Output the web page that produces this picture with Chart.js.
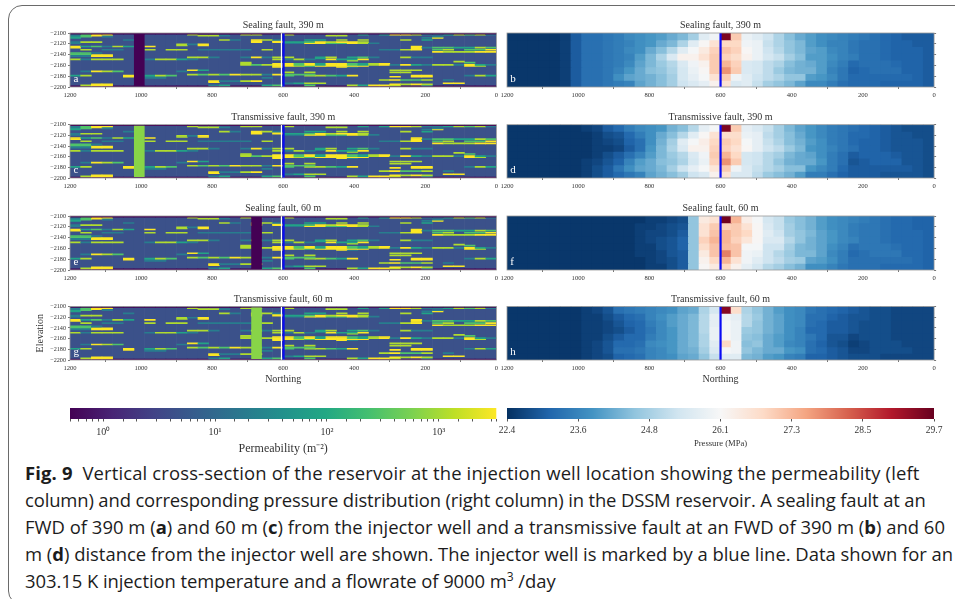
<!DOCTYPE html>
<html><head><meta charset="utf-8">
<script src="https://cdn.jsdelivr.net/npm/chart.js@4"></script>
<style>
html,body{margin:0;padding:0;background:#fff;overflow:hidden;width:955px;height:599px}
#frame{position:absolute;left:8px;top:5px;width:1000px;height:600px;border:1.5px solid #6a6a6a;border-radius:14px;box-sizing:border-box}
canvas{position:absolute;filter:blur(.4px)}
.letter{position:absolute;color:#fff;font:11px "Liberation Serif",serif;filter:blur(.3px)}
.cap{position:absolute;left:25px;white-space:nowrap;font:18.45px "Open Sans",sans-serif;color:#1c1c1c;line-height:20px}
.cap b{font-weight:700}
.cap sup{font-size:12px;line-height:0}
</style></head><body>
<div id="frame"></div>
<div id="plots"></div>
<div class="cap" style="top:462.5px;letter-spacing:.14px"><b>Fig. 9</b>&nbsp; Vertical cross-section of the reservoir at the injection well location showing the permeability (left</div>
<div class="cap" style="top:489.5px;letter-spacing:-.14px">column) and corresponding pressure distribution (right column) in the DSSM reservoir. A sealing fault at an</div>
<div class="cap" style="top:516.5px;letter-spacing:.01px">FWD of 390 m (<b>a</b>) and 60 m (<b>c</b>) from the injector well and a transmissive fault at an FWD of 390 m (<b>b</b>) and 60</div>
<div class="cap" style="top:543.5px;letter-spacing:-.01px">m (<b>d</b>) distance from the injector well are shown. The injector well is marked by a blue line. Data shown for an</div>
<div class="cap" style="top:570.5px;letter-spacing:-.06px">303.15 K injection temperature and a flowrate of 9000 m<sup>3</sup> /day</div>
<script>
Chart.defaults.animation=false;
Chart.defaults.responsive=false;
Chart.defaults.font.family='"Liberation Serif",serif';
Chart.defaults.color='#333';

// ---- data ----
const northingCells=[1185,1155,1125,1095,1065,1035,1005,975,945,915,885,855,825,795,765,735,705,675,645,615,585,555,525,495,465,435,405,375,345,315,285,255,225,195,165,135,105,75,45,15];
const xTickValues=[1200,1000,800,600,400,200,0];
const elevationTicks=[-2100,-2120,-2140,-2160,-2180,-2200];
const wellNorthing=600;
const basePermeability=4.5;
const permeabilityLevels={'.':4.5,p:0.5,a:20,b:82,c:280,d:1150,e:3200};
const sealingPermeability=0.5, transmissivePermeability=680;
const permeabilityRows=[
"pppppppppp pppppppppp pppppppppp pppppppppp",
"acee...... .d....dd.. d......b.b eedaabdcda",
"acea...... ..dda..... ....dd.... ..........",
"bc.a...... .......... .......... ....a.....",
"b......... .......... .......... ...ae.....",
".......... .......... .......... ..........",
".....a.... ....da.eda ..bb.d.d.. .d.b......",
".......... .......e.e .......... ..........",
"add....... .......e.e bbcedeed.. ..........",
"a......... .......... aaeecceda. ..........",
".......... dae....... .......... ..........",
".......... d.e....... .......... ..........",
"ebcadb.e.. .......... .......... ..e.......",
"e......... .......... .......... ..eaccbbdc",
".......... .......... .......... ..e.......",
".d.aa..d.d d.aaaaa.d. .........a ade.cd.cce",
".......... .......... .......... ..........",
".......... .......... .......... ....edddee",
"cca....... .......... .......... ..........",
"cc........ .......... .......... ..........",
"aaee...... .......... .......... ..........",
"aaee...... .......... .......... ..........",
".......... .dda..aead d..bd.bca. .daa......",
".......... .......... ...b...... ..........",
"daddd..add ba.......d ada.ebbe.. ..........",
".......... .......... ......d... ..........",
".......... .......... .......... ......d...",
".......... ......d... .......... .......c..",
".......... ......d..e ecebeecbde ..........",
".......... ......dcde ecebeecbde aebaddaeba",
".......... .........e edceeeee.. .......ed.",
".......... .........e .....ea... ..........",
".......... .......... .......... ..........",
".......... .......... .......... ..........",
".......... .eb....... .......... ddd.......",
".aedc..... a......... .......... ..........",
".......... .......... d.d....... dd........",
".......... .......... .......... ..........",
".......... .dcdceddae ccc....... ..........",
"bd...e.bdc .......... c.ddcbe... ..ee...adb",
".....e.aa. .......... .......... e.ee......",
".......aa. ........a. .......... ..........",
".......... .......... .......... ..........",
".......... .......... .........d eccd.a....",
".......... ...eaade.. .......... ..........",
".......... ...e...... .......... ..........",
".......... .......... abdd...... .....ee...",
"..ee...... .......... .......... eded......",
".dee...... ...ab...bc ..c...dbee d..a......",
"pppppppppp pppppppppp pppppppppp pppppppppp"
];
const faultColumnFar=6, faultColumnNear=17;

const pressureB=[
[22.5,22.5,22.5,22.5,22.5,22.6,23.0,23.3,23.3,23.4,23.5,23.7,23.8,23.9,24.0,24.2,24.4,24.8,25.6,25.9,29.5,27.0,25.8,25.6,25.3,24.9,24.5,24.2,24.0,23.8,23.7,23.6,23.5,23.4,23.3,23.2,23.1,23.0,23.0,23.0],
[22.5,22.5,22.5,22.5,22.5,22.6,23.0,23.3,23.3,23.4,23.5,23.6,23.8,23.9,24.2,24.4,24.9,25.6,26.1,26.6,26.8,26.8,25.9,25.8,25.2,24.9,24.6,24.4,24.0,23.8,23.6,23.6,23.4,23.3,23.3,23.2,23.1,23.1,23.0,23.0],
[22.5,22.5,22.5,22.5,22.5,22.6,23.0,23.3,23.3,23.4,23.5,23.7,23.8,24.2,24.5,25.0,25.6,26.0,26.4,26.9,27.1,26.9,26.1,25.8,25.3,25.0,24.6,24.4,24.1,24.0,23.7,23.6,23.4,23.3,23.3,23.2,23.1,23.1,23.1,23.0],
[22.5,22.5,22.5,22.5,22.5,22.6,23.0,23.3,23.3,23.4,23.5,23.6,24.0,24.4,24.9,25.5,26.2,26.2,26.6,27.0,26.9,26.7,26.2,25.8,25.4,25.2,24.8,24.5,24.0,24.0,23.8,23.6,23.5,23.3,23.3,23.2,23.1,23.1,23.1,23.0],
[22.5,22.5,22.5,22.5,22.5,22.6,23.0,23.3,23.3,23.4,23.5,23.7,24.1,24.4,24.7,25.0,25.5,25.9,26.2,27.0,27.3,26.9,25.5,25.4,25.1,24.9,24.5,24.3,24.2,24.0,23.7,23.5,23.2,23.3,23.3,23.3,23.2,23.1,23.1,23.0],
[22.5,22.5,22.5,22.5,22.5,22.6,23.0,23.3,23.3,23.4,23.6,23.9,24.2,24.5,24.6,24.9,25.4,25.8,26.1,27.0,27.7,27.0,25.5,25.4,25.1,24.7,24.4,24.3,24.3,24.0,23.6,23.4,23.1,23.2,23.3,23.3,23.3,23.1,23.1,23.0],
[22.5,22.5,22.5,22.5,22.5,22.6,23.0,23.3,23.3,23.4,23.8,24.1,24.2,24.3,24.5,24.8,25.4,25.7,26.0,26.6,27.0,25.9,25.6,25.3,25.1,24.9,24.6,24.6,24.0,23.9,23.7,23.4,23.2,23.2,23.2,23.2,23.2,23.2,23.1,23.0],
[22.5,22.5,22.5,22.5,22.5,22.6,23.0,23.3,23.3,23.4,23.5,23.6,24.1,24.3,24.5,24.8,25.3,25.5,25.7,26.2,26.6,25.5,25.6,25.2,24.8,24.6,24.4,24.1,23.7,23.7,23.5,23.3,23.2,23.2,23.2,23.1,23.1,23.1,23.1,23.0]
];
const pressureD=[
[22.5,22.5,22.5,22.5,22.5,22.5,22.5,22.6,22.7,23.0,23.2,23.5,23.7,23.8,23.9,24.3,24.5,25.0,25.7,26.0,29.5,27.0,25.7,25.5,25.2,24.8,24.4,24.1,23.9,23.7,23.5,23.4,23.3,23.2,23.1,23.0,22.9,22.8,22.8,22.8],
[22.5,22.5,22.5,22.5,22.5,22.5,22.5,22.5,22.6,22.8,22.9,23.2,23.5,23.8,24.2,24.5,25.0,25.6,26.1,26.6,26.7,26.7,25.8,25.7,25.1,24.8,24.5,24.2,23.9,23.7,23.5,23.4,23.2,23.2,23.1,23.0,22.9,22.9,22.8,22.8],
[22.5,22.5,22.5,22.5,22.5,22.5,22.5,22.5,22.6,22.7,22.8,23.1,23.3,23.8,24.3,24.8,25.6,26.0,26.3,26.8,27.0,26.8,26.0,25.7,25.2,24.9,24.5,24.3,24.0,23.8,23.5,23.4,23.2,23.1,23.1,23.0,22.9,22.9,22.9,22.8],
[22.5,22.5,22.5,22.5,22.5,22.5,22.5,22.5,22.6,22.6,22.7,23.0,23.3,23.9,24.4,24.9,25.5,26.2,26.2,26.9,26.9,26.6,26.1,25.7,25.3,25.1,24.7,24.4,23.9,23.8,23.6,23.4,23.3,23.1,23.1,23.0,22.9,22.9,22.9,22.8],
[22.5,22.5,22.5,22.5,22.5,22.5,22.5,22.5,22.6,22.8,23.0,23.3,23.6,24.0,24.4,24.7,25.0,25.5,25.9,27.0,27.3,26.8,25.4,25.3,25.0,24.8,24.4,24.2,24.1,23.8,23.5,23.3,23.0,23.1,23.1,23.1,23.0,22.9,22.9,22.8],
[22.5,22.5,22.5,22.5,22.5,22.5,22.5,22.6,22.7,22.9,23.1,23.6,24.0,24.2,24.5,24.6,24.9,25.4,25.8,26.9,27.7,27.0,25.4,25.3,25.0,24.6,24.3,24.2,24.2,23.9,23.5,23.3,22.9,23.0,23.1,23.1,23.1,22.9,22.9,22.8],
[22.5,22.5,22.5,22.5,22.5,22.5,22.5,22.6,22.8,23.0,23.4,23.8,24.1,24.2,24.4,24.8,25.3,25.7,26.0,26.5,27.0,25.9,25.5,25.2,25.0,24.8,24.5,24.5,23.9,23.7,23.5,23.2,23.0,23.0,23.0,23.0,23.0,23.0,22.9,22.8],
[22.5,22.5,22.5,22.5,22.5,22.5,22.5,22.6,22.8,23.0,23.2,23.4,23.6,24.1,24.3,24.5,24.8,25.3,25.5,26.2,26.6,25.5,25.5,25.1,24.7,24.5,24.3,24.0,23.5,23.5,23.3,23.1,23.0,23.0,23.0,22.9,22.9,22.9,22.9,22.8]
];
const pressureF=[
[22.5,22.5,22.5,22.5,22.5,22.5,22.5,22.5,22.5,22.5,22.5,22.5,22.5,22.6,22.6,22.7,22.8,24.6,26.4,26.6,29.6,27.3,26.3,26.0,25.4,25.2,24.7,24.5,24.3,24.0,23.8,23.7,23.6,23.5,23.4,23.3,23.2,23.2,23.1,23.1],
[22.5,22.5,22.5,22.5,22.5,22.5,22.5,22.5,22.5,22.5,22.5,22.5,22.6,22.6,22.7,22.8,22.9,24.6,26.6,27.0,26.9,27.0,26.6,26.1,25.5,25.2,24.8,24.5,24.3,24.0,23.8,23.7,23.5,23.4,23.4,23.3,23.2,23.2,23.1,23.1],
[22.5,22.5,22.5,22.5,22.5,22.5,22.5,22.5,22.5,22.5,22.5,22.5,22.6,22.7,22.7,22.8,23.0,24.6,26.6,27.1,27.3,27.0,26.8,26.1,25.6,25.3,24.8,24.6,24.4,24.1,23.9,23.7,23.5,23.4,23.4,23.3,23.2,23.2,23.2,23.1],
[22.5,22.5,22.5,22.5,22.5,22.5,22.5,22.5,22.5,22.5,22.5,22.5,22.6,22.7,22.8,22.9,23.1,24.6,26.9,27.3,27.3,26.9,26.5,26.1,25.5,25.5,25.0,24.6,24.3,24.1,23.9,23.7,23.6,23.4,23.4,23.3,23.2,23.2,23.2,23.1],
[22.5,22.5,22.5,22.5,22.5,22.5,22.5,22.5,22.5,22.5,22.5,22.5,22.6,22.6,22.8,22.9,23.1,24.6,26.7,27.1,27.2,27.1,26.0,26.0,25.3,25.3,24.8,24.4,24.3,24.1,23.8,23.6,23.3,23.4,23.4,23.4,23.3,23.2,23.2,23.1],
[22.5,22.5,22.5,22.5,22.5,22.5,22.5,22.5,22.5,22.5,22.5,22.5,22.6,22.6,22.7,22.9,23.0,24.6,26.4,27.1,27.9,27.1,25.9,25.8,25.3,25.0,24.7,24.4,24.4,24.1,23.7,23.5,23.2,23.3,23.4,23.4,23.4,23.2,23.2,23.1],
[22.5,22.5,22.5,22.5,22.5,22.5,22.5,22.5,22.5,22.5,22.5,22.5,22.5,22.6,22.7,22.8,23.0,24.6,26.2,26.8,27.3,26.6,25.9,25.6,25.3,25.1,24.8,24.7,24.1,24.0,23.8,23.5,23.3,23.3,23.3,23.3,23.3,23.3,23.2,23.1],
[22.5,22.5,22.5,22.5,22.5,22.5,22.5,22.5,22.5,22.5,22.5,22.5,22.5,22.6,22.6,22.8,23.0,24.6,26.1,26.4,26.8,26.2,25.7,25.4,25.0,24.8,24.5,24.3,23.8,23.8,23.6,23.4,23.3,23.3,23.3,23.2,23.2,23.2,23.2,23.1]
];
const pressureH=[
[22.5,22.5,22.5,22.5,22.5,22.5,22.5,22.6,22.7,22.9,23.3,23.4,23.5,23.6,23.7,23.8,24.1,24.2,24.9,25.4,29.4,26.7,24.9,24.6,24.3,24.0,23.8,23.7,23.4,23.3,23.2,23.1,23.0,22.9,22.8,22.8,22.7,22.7,22.7,22.7],
[22.5,22.5,22.5,22.5,22.5,22.5,22.5,22.6,22.6,22.8,23.0,23.2,23.3,23.6,23.8,24.0,24.2,24.4,25.0,25.7,25.9,25.7,25.0,24.7,24.3,24.1,23.8,23.7,23.3,23.3,23.1,23.0,22.9,22.9,22.8,22.8,22.7,22.7,22.7,22.7],
[22.5,22.5,22.5,22.5,22.5,22.5,22.5,22.6,22.6,22.7,22.9,23.1,23.2,23.5,23.7,24.0,24.2,24.4,25.0,25.7,26.0,25.8,25.0,24.6,24.3,24.1,23.8,23.7,23.3,23.2,23.0,23.0,22.9,22.8,22.8,22.8,22.7,22.7,22.7,22.7],
[22.5,22.5,22.5,22.5,22.5,22.5,22.5,22.6,22.6,22.7,22.8,23.0,23.2,23.4,23.7,23.9,24.2,24.4,25.0,25.8,26.0,25.8,24.7,24.6,24.3,24.1,23.8,23.6,23.2,23.2,23.0,23.0,22.9,22.8,22.8,22.8,22.7,22.7,22.7,22.7],
[22.5,22.5,22.5,22.5,22.5,22.5,22.5,22.6,22.6,22.8,23.0,23.2,23.2,23.5,23.7,23.9,24.2,24.4,24.9,25.8,26.1,25.8,24.6,24.5,24.2,24.0,23.8,23.6,23.4,23.2,22.9,22.9,22.7,22.8,22.8,22.8,22.7,22.7,22.7,22.7],
[22.5,22.5,22.5,22.5,22.5,22.5,22.5,22.6,22.7,22.9,23.2,23.2,23.3,23.7,23.8,23.9,24.2,24.4,24.9,25.6,26.8,25.9,24.5,24.6,24.2,24.0,23.7,23.6,23.3,23.1,22.9,22.8,22.6,22.7,22.8,22.8,22.8,22.7,22.7,22.7],
[22.5,22.5,22.5,22.5,22.5,22.5,22.5,22.6,22.7,22.9,23.3,23.3,23.4,23.6,23.7,23.9,24.2,24.3,24.8,25.5,26.0,25.9,24.6,24.4,24.2,24.2,23.9,23.8,23.3,23.2,23.0,22.9,22.7,22.7,22.8,22.8,22.8,22.8,22.7,22.7],
[22.5,22.5,22.5,22.5,22.5,22.5,22.5,22.6,22.7,22.8,23.1,23.2,23.3,23.6,23.7,23.8,24.1,24.2,24.6,25.2,25.6,25.6,24.4,24.3,24.0,23.9,23.6,23.5,23.1,23.1,23.0,22.9,22.8,22.8,22.8,22.7,22.7,22.7,22.7,22.7]
];
const permeabilityRange=[0.503,3286];
const permeabilityTickLabels={1:'10\u2070',10:'10\u00b9',100:'10\u00b2',1000:'10\u00b3'};
const pressureRange=[22.4,29.7];
const pressureTicks=[22.4,23.617,24.833,26.05,27.267,28.483,29.7];
const pressureTickLabels=['22.4','23.6','24.8','26.1','27.3','28.5','29.7'];

// ---- colour maps ----
const viridis=['#440154','#482475','#414487','#355f8d','#2a788e','#21918c','#22a884','#44bf70','#7ad151','#bddf26','#fde725'];
const rdbu=['#053061','#2166ac','#4393c3','#92c5de','#d1e5f0','#f7f7f7','#fddbc7','#f4a582','#d6604d','#b2182b','#67001f'];
const hex=h=>[1,3,5].map(i=>parseInt(h.substr(i,2),16));
function ramp(stops,t){t=Math.max(0,Math.min(1,t))*(stops.length-1);const i=Math.min(Math.floor(t),stops.length-2),f=t-i,a=hex(stops[i]),b=hex(stops[i+1]);
  return 'rgb('+a.map((v,k)=>Math.round(v+(b[k]-v)*f)).join(',')+')';}
const permColor=v=>ramp(viridis,(Math.log10(v)-Math.log10(permeabilityRange[0]))/(Math.log10(permeabilityRange[1])-Math.log10(permeabilityRange[0])));
const presColor=v=>ramp(rdbu,(v-pressureRange[0])/(pressureRange[1]-pressureRange[0]));

// ---- charts ----
const frameBox={id:'frameBox',afterDatasetsDraw(c){const a=c.chartArea,x=c.ctx;x.save();x.strokeStyle='#9a9a9a';x.lineWidth=.8;x.strokeRect(a.left,a.top,a.right-a.left,a.bottom-a.top);x.restore();}};
const plots=document.getElementById('plots');
function mk(left,top,w,h){const cv=document.createElement('canvas');cv.width=w;cv.height=h;cv.style.left=left+'px';cv.style.top=top+'px';cv.style.width=w+'px';cv.style.height=h+'px';plots.appendChild(cv);return cv;}

const TITLE_H=17;
function panel(opts){
  const side=opts.side, xLabel=opts.northing, plotH=opts.bottom-opts.top;
  const axisW=side==='left'?40:0, leftPad=side==='left'?0:9, rightW=14, yW=side==='left'?0:3;
  const xH=xLabel?25:14;
  const L=opts.x0-axisW-leftPad, T=Math.round(opts.top-TITLE_H), extraTop=(opts.top-TITLE_H)-T;
  const W=Math.ceil(leftPad+axisW+(opts.x1-opts.x0)+rightW);
  const H=Math.ceil(TITLE_H+extraTop+plotH+xH);
  const rows=opts.rows, dh=100/rows.length, inflate=opts.inflate;
  const common={type:'bar',grouped:false,barPercentage:1,categoryPercentage:1,borderWidth:0,inflateAmount:inflate};
  const ds=[];
  if(opts.base!==undefined)ds.push({...common,order:9,backgroundColor:opts.color(opts.base),data:northingCells.map(x=>({x:x,y:[-2200,-2100]}))});
  if(opts.fault)ds.push({...common,inflateAmount:0,order:4,backgroundColor:opts.color(opts.fault.value),data:[{x:northingCells[opts.fault.col],y:[-2198,-2102]},{x:northingCells[opts.fault.col+1],y:[-2200,-2200]}]});
  rows.forEach((r,ri)=>{
    const cols=[],pts=[];
    r.forEach((v,ci)=>{if(v!==opts.base){cols.push(opts.color(v));pts.push({x:northingCells[ci],y:[-2100-dh*(ri+1),-2100-dh*ri]});}});
    if(pts.length)ds.push({...common,order:5,backgroundColor:cols,data:pts});
  });
  if(side==='left')ds.push({type:'line',order:1,data:[{x:wellNorthing+5,y:-2100},{x:wellNorthing+5,y:-2200}],borderColor:'#ffffff',borderWidth:1.1,pointRadius:0});
  ds.push({type:'line',order:0,data:[{x:wellNorthing-(side==='left'?1:0),y:-2100},{x:wellNorthing-(side==='left'?1:0),y:-2200}],borderColor:'#0b0bf5',borderWidth:2.2,pointRadius:0});
  new Chart(mk(L,T,W,H),{type:'bar',data:{datasets:ds},plugins:[frameBox],options:{
    layout:{padding:{left:leftPad,right:W-leftPad-axisW-(opts.x1-opts.x0)-yW,top:extraTop,bottom:0}},
    plugins:{legend:{display:false},tooltip:{enabled:false},
      title:{display:true,fullSize:false,text:opts.title,color:'#333',font:{size:10,weight:'normal',lineHeight:1.2},padding:{top:3.5,bottom:1.5}}},
    scales:{
      x:{type:'linear',reverse:true,min:0,max:1200,offset:false,
        afterBuildTicks(s){s.ticks=xTickValues.map(v=>({value:v}));},
        afterFit(s){s.height=xH;},
        grid:{display:true,drawOnChartArea:false,tickLength:2,color:'#777',drawTicks:true},
        border:{display:false},
        title:{display:!!xLabel,text:'Northing',color:'#333',font:{size:10},padding:{top:2,bottom:0}},
        ticks:{font:{size:6.6},color:'#333',maxRotation:0,autoSkip:false,padding:2,callback:v=>String(v)}},
      y:{type:'linear',position:side==='left'?'left':'right',min:-2200,max:-2100,
        afterBuildTicks(s){s.ticks=elevationTicks.map(v=>({value:v}));},
        afterFit(s){s.width=side==='left'?axisW:yW;},
        grid:{display:true,drawOnChartArea:false,tickLength:2,color:'#777'},
        border:{display:false},
        title:{display:!!opts.elev,text:'Elevation',color:'#333',font:{size:10},padding:{top:4,bottom:0}},
        ticks:{display:side==='left',font:{size:6.2},color:'#333',padding:2,autoSkip:false,callback:v=>String(v).replace('-','\u2212')}}
    }}});
  const l=document.createElement('div');l.className='letter';l.textContent=opts.letter;l.style.left=(opts.x0+3.5)+'px';l.style.top=(opts.bottom-15)+'px';plots.appendChild(l);
}
const permTable=permeabilityRows.map(s=>s.replace(/ /g,'').split('').map(ch=>permeabilityLevels[ch]));

const LX0=70,LX1=496.4,RX0=506.7,RX1=933.8;
const rowsY=[[33,87],[124.7,178],[216,269.5],[306.5,360]];
const P={color:permColor,base:basePermeability,side:'left',x0:LX0,x1:LX1,rows:permTable,inflate:.3};
const Q={color:presColor,side:'right',x0:RX0,x1:RX1,inflate:.5};
panel({...P,top:rowsY[0][0],bottom:rowsY[0][1],title:'Sealing fault, 390 m',letter:'a',fault:{col:faultColumnFar,value:sealingPermeability}});
panel({...Q,top:rowsY[0][0],bottom:rowsY[0][1],title:'Sealing fault, 390 m',letter:'b',rows:pressureB});
panel({...P,top:rowsY[1][0],bottom:rowsY[1][1],title:'Transmissive fault, 390 m',letter:'c',fault:{col:faultColumnFar,value:transmissivePermeability}});
panel({...Q,top:rowsY[1][0],bottom:rowsY[1][1],title:'Transmissive fault, 390 m',letter:'d',rows:pressureD});
panel({...P,top:rowsY[2][0],bottom:rowsY[2][1],title:'Sealing fault, 60 m',letter:'e',fault:{col:faultColumnNear,value:sealingPermeability}});
panel({...Q,top:rowsY[2][0],bottom:rowsY[2][1],title:'Sealing fault, 60 m',letter:'f',rows:pressureF});
panel({...P,top:rowsY[3][0],bottom:rowsY[3][1],title:'Transmissive fault, 60 m',letter:'g',fault:{col:faultColumnNear,value:transmissivePermeability},northing:true,elev:true});
panel({...Q,top:rowsY[3][0],bottom:rowsY[3][1],title:'Transmissive fault, 60 m',letter:'h',rows:pressureH,northing:true});

function colorbar(o){
  const pad=12,W=Math.ceil(o.x1-o.x0)+2*pad,barH=10.6,H=Math.ceil(barH+o.axisH),T=407.7;
  const cv=mk(o.x0-pad,T,W,H);
  o.axis.afterFit=s=>{s.height=o.axisH;};
  new Chart(cv,{type:'bar',data:{labels:[''],datasets:[{data:[o.range],borderWidth:0,barPercentage:1,categoryPercentage:1,
      backgroundColor(ctx){const a=ctx.chart.chartArea;if(!a)return '#888';const g=ctx.chart.ctx.createLinearGradient(a.left,0,a.right,0);o.stops.forEach((c,i)=>g.addColorStop(i/(o.stops.length-1),c));return g;}}]},
    options:{indexAxis:'y',layout:{padding:{left:pad,right:W-pad-(o.x1-o.x0),top:0,bottom:0}},
      plugins:{legend:{display:false},tooltip:{enabled:false},title:{display:false}},
      scales:{y:{display:false,offset:true},x:o.axis}}});
}
colorbar({x0:LX0,x1:LX1,axisH:37,range:permeabilityRange,stops:viridis,axis:{type:'logarithmic',min:permeabilityRange[0],max:permeabilityRange[1],
  grid:{drawOnChartArea:false,tickLength:2.5,color:'#555'},border:{display:false},
  title:{display:true,text:'Permeability (m\u207b\u00b2)',color:'#333',font:{size:12},padding:{top:1,bottom:0}},
  ticks:{autoSkip:false,maxRotation:0,font:{size:10},color:'#333',padding:5,callback:v=>permeabilityTickLabels[v]||''}}});
colorbar({x0:RX0,x1:RX1,axisH:30,range:pressureRange,stops:rdbu,axis:{type:'linear',min:pressureRange[0],max:pressureRange[1],
  afterBuildTicks(s){s.ticks=pressureTicks.map(v=>({value:v}));},
  grid:{drawOnChartArea:false,tickLength:2.5,color:'#555'},border:{display:false},
  title:{display:true,text:'Pressure (MPa)',color:'#333',font:{size:8.6},padding:{top:1,bottom:0}},
  ticks:{autoSkip:false,maxRotation:0,font:{size:9.5},color:'#333',padding:3,callback:(v,i)=>pressureTickLabels[i]}}});
</script>
</body></html>
